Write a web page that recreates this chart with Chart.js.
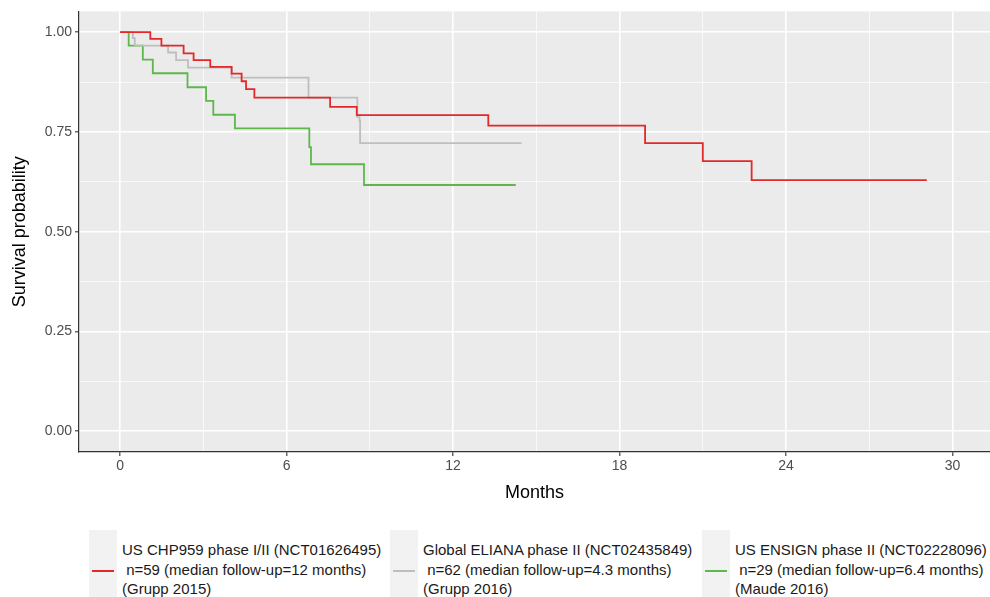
<!DOCTYPE html>
<html>
<head>
<meta charset="utf-8">
<script src="https://cdn.jsdelivr.net/npm/chart.js@4.4.1/dist/chart.umd.min.js"></script>
<style>
  html, body { margin: 0; padding: 0; background: #fff; }
  #wrap { position: relative; width: 990px; height: 597px; overflow: hidden; font-family: 'Liberation Sans', Arial, sans-serif; }
  #chartBox { position: absolute; left: 0; top: 0; width: 990px; height: 506px; }
  .key { position: absolute; top: 530px; width: 28px; height: 90px; background: #F2F2F2; }
  .key span { position: absolute; left: 3px; right: 3px; top: 40px; height: 2px; }
  .lab { position: absolute; top: 540px; font-size: 15px; line-height: 19.5px; color: #1a1a1a; white-space: pre; }
</style>
</head>
<body>
<div id="wrap">
  <div id="chartBox"><canvas id="c"></canvas></div>
  <div id="legend"></div>
</div>
<script>
// ---- data ----
const redTime   = [0, 1.09, 1.49, 2.29, 2.65, 3.25, 4.02, 4.38, 4.54, 4.84, 7.57, 8.53, 13.27, 18.92, 21.0, 22.76, 29.07];
const redSurv   = [1.0, 0.983, 0.966, 0.947, 0.930, 0.913, 0.896, 0.877, 0.857, 0.836, 0.813, 0.792, 0.766, 0.722, 0.677, 0.629, 0.629];

const grayTime  = [0, 0.46, 0.53, 1.73, 2.02, 2.45, 4.02, 6.79, 8.55, 8.63, 8.65, 14.47];
const graySurv  = [1.0, 0.985, 0.966, 0.949, 0.930, 0.911, 0.886, 0.836, 0.787, 0.778, 0.722, 0.722];

const greenTime = [0, 0.31, 0.82, 1.18, 2.43, 3.10, 3.36, 4.14, 6.82, 6.88, 8.79, 14.26];
const greenSurv = [1.0, 0.966, 0.931, 0.897, 0.862, 0.828, 0.793, 0.759, 0.712, 0.669, 0.617, 0.617];

const seriesTitle = ['US CHP959 phase I/II (NCT01626495)', 'Global ELIANA phase II (NCT02435849)', 'US ENSIGN phase II (NCT02228096)'];
const seriesN     = [' n=59 (median follow-up=12 months)', ' n=62 (median follow-up=4.3 months)', ' n=29 (median follow-up=6.4 months)'];
const seriesRef   = ['(Grupp 2015)', '(Grupp 2016)', '(Maude 2016)'];
const seriesColor = ['#E4282A', '#BEBEBE', '#5DB84C'];

const xTicks = [0, 3, 6, 9, 12, 15, 18, 21, 24, 27, 30];
const yTicks = [0, 0.125, 0.25, 0.375, 0.5, 0.625, 0.75, 0.875, 1.0];
const xLabel = 'Months';
const yLabel = 'Survival probability';

function pts(t, s) { return t.map((v, i) => ({ x: v, y: s[i] })); }

// ---- legend (HTML) ----
const keyLeft = [89, 390, 702];
const legend = document.getElementById('legend');
seriesTitle.forEach((t, i) => {
  const k = document.createElement('div');
  k.className = 'key';
  k.style.left = keyLeft[i] + 'px';
  const ln = document.createElement('span');
  ln.style.background = seriesColor[i];
  k.appendChild(ln);
  legend.appendChild(k);
  const l = document.createElement('div');
  l.className = 'lab';
  l.style.left = (keyLeft[i] + 33) + 'px';
  l.textContent = t + '\n' + seriesN[i] + '\n' + seriesRef[i];
  legend.appendChild(l);
});

// ---- chart ----
const panelBg = {
  id: 'panelBg',
  beforeDraw(chart) {
    const a = chart.chartArea, ctx = chart.ctx;
    ctx.save();
    ctx.fillStyle = '#EBEBEB';
    ctx.fillRect(a.left, a.top, a.right - a.left, a.bottom - a.top);
    ctx.restore();
  }
};

const font = "'Liberation Sans', Arial, sans-serif";
const isMajorY = v => Math.abs(v * 4 - Math.round(v * 4)) < 1e-9;

new Chart(document.getElementById('c'), {
  type: 'line',
  data: {
    datasets: [
      { label: seriesTitle[0], data: pts(redTime, redSurv), borderColor: seriesColor[0] },
      { label: seriesTitle[1], data: pts(grayTime, graySurv), borderColor: seriesColor[1] },
      { label: seriesTitle[2], data: pts(greenTime, greenSurv), borderColor: seriesColor[2] }
    ].map(d => Object.assign(d, { stepped: 'before', borderWidth: 1.8, pointRadius: 0, fill: false, tension: 0 }))
  },
  options: {
    responsive: true,
    maintainAspectRatio: false,
    animation: false,
    events: [],
    layout: { padding: { top: 8, right: 0, bottom: 0, left: 0 } },
    plugins: { legend: { display: false }, tooltip: { enabled: false } },
    scales: {
      x: {
        type: 'linear',
        min: -1.48, max: 31.35,
        afterBuildTicks: s => { s.ticks = xTicks.map(v => ({ value: v })); },
        afterFit: s => { s.height = 54; },
        ticks: {
          autoSkip: false, maxRotation: 0, padding: 2,
          color: '#4D4D4D', font: { family: font, size: 14 },
          callback: v => (v % 6 === 0 ? String(v) : '')
        },
        grid: {
          color: '#FFFFFF',
          lineWidth: c => (c.tick && c.tick.value % 6 === 0 ? 1.6 : 0.7),
          tickColor: c => (c.tick && c.tick.value % 6 === 0 ? '#333333' : 'rgba(0,0,0,0)'),
          tickWidth: 1.1, tickLength: 4, drawTicks: true
        },
        border: { display: true, color: '#333333', width: 1.2 },
        title: { display: true, text: xLabel, color: '#000', font: { family: font, size: 18 }, padding: { top: 2, bottom: 2 } }
      },
      y: {
        type: 'linear',
        min: -0.052, max: 1.052,
        afterBuildTicks: s => { s.ticks = yTicks.map(v => ({ value: v })); },
        afterFit: s => { s.width = 79; },
        ticks: {
          autoSkip: false, padding: 3,
          color: '#4D4D4D', font: { family: font, size: 14 },
          callback: v => (isMajorY(v) ? v.toFixed(2) : '')
        },
        grid: {
          color: '#FFFFFF',
          lineWidth: c => (c.tick && isMajorY(c.tick.value) ? 1.6 : 0.7),
          tickColor: c => (c.tick && isMajorY(c.tick.value) ? '#333333' : 'rgba(0,0,0,0)'),
          tickWidth: 1.1, tickLength: 4, drawTicks: true
        },
        border: { display: true, color: '#333333', width: 1.2 },
        title: { display: true, text: yLabel, color: '#000', font: { family: font, size: 18 }, padding: { top: 9, bottom: 0 } }
      }
    }
  },
  plugins: [panelBg]
});
</script>
</body>
</html>
